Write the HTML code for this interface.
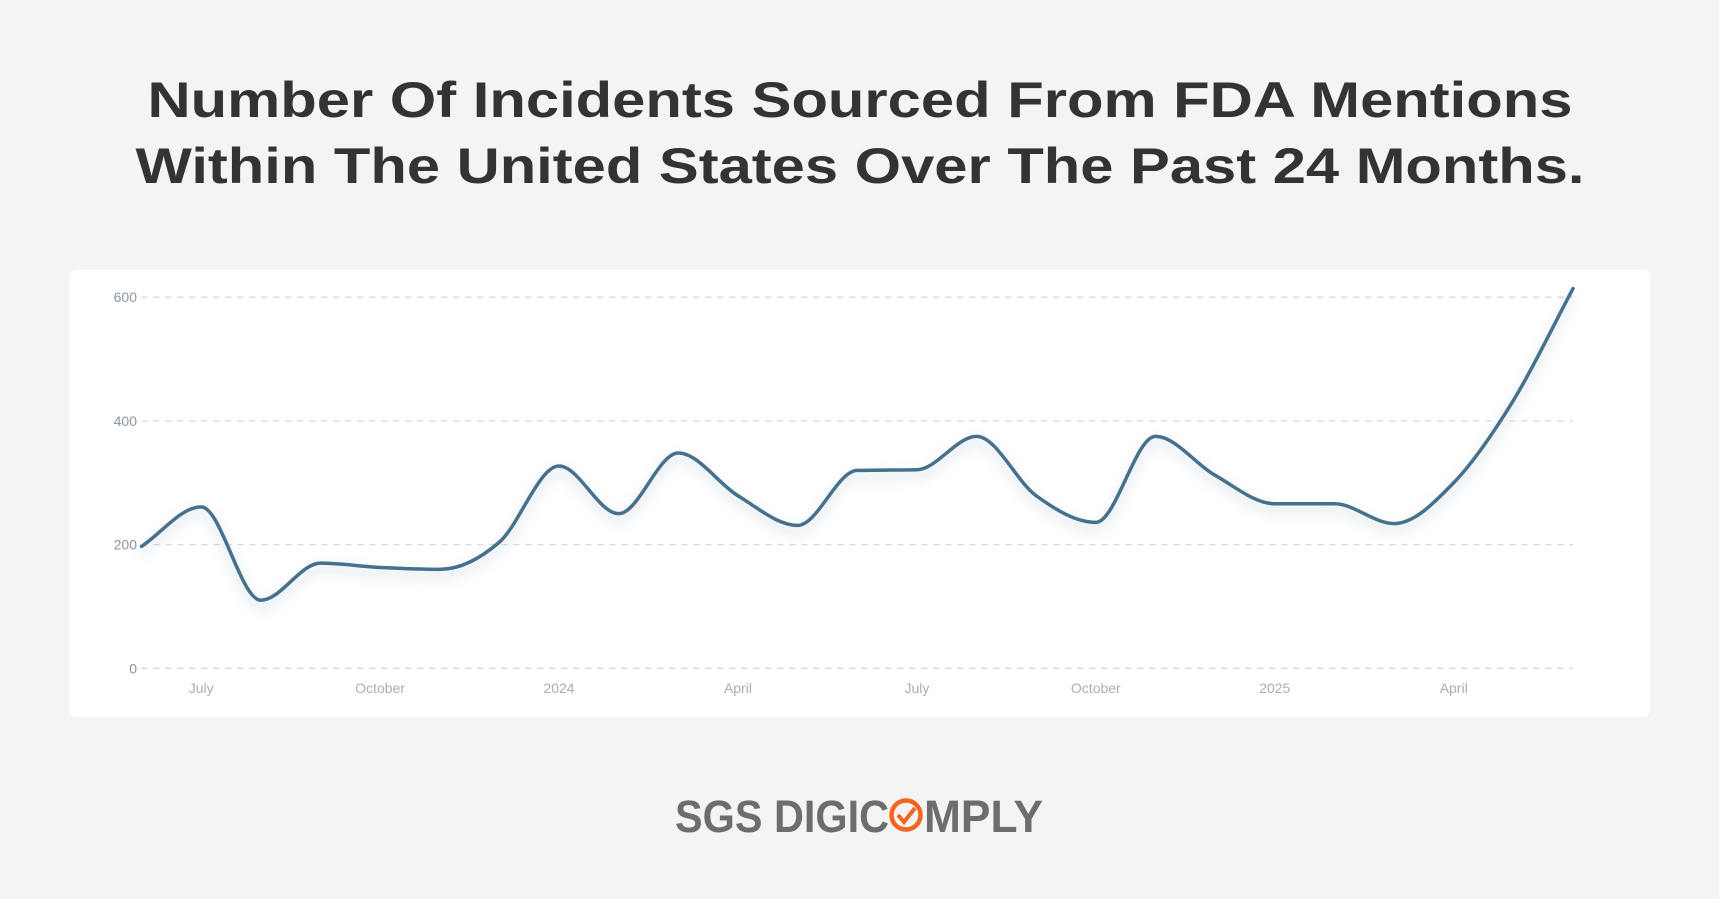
<!DOCTYPE html>
<html><head><meta charset="utf-8"><style>
html,body{margin:0;padding:0;background:#f4f4f4;}
svg{display:block;}
</style></head><body>
<svg id="chart" width="1719" height="899" viewBox="0 0 1719 899" xmlns="http://www.w3.org/2000/svg">
<defs>
<filter id="glow" x="-5%" y="-20%" width="110%" height="140%"><feGaussianBlur stdDeviation="6"/></filter>
</defs>
<rect x="0" y="0" width="1719" height="899" fill="#f4f4f4"/>
<g font-family="Liberation Sans, sans-serif" font-weight="bold" font-size="50" fill="#333" text-anchor="middle">
<text x="860" y="117" textLength="1425" lengthAdjust="spacingAndGlyphs">Number Of Incidents Sourced From FDA Mentions</text>
<text x="860" y="183" textLength="1449" lengthAdjust="spacingAndGlyphs">Within The United States Over The Past 24 Months.</text>
</g>
<rect x="69" y="270" width="1581" height="447" rx="7" fill="#fff"/>
<g id="grid"></g>
<g id="ylabels"></g>
<g id="xlabels"></g>
<g id="series"></g>
<g font-family="Liberation Sans, sans-serif" font-weight="bold" fill="#6d6d6d">
<text x="675" y="832" font-size="45" textLength="214" lengthAdjust="spacingAndGlyphs">SGS DIGIC</text>
<circle cx="906" cy="815" r="14.5" fill="none" stroke="#f26522" stroke-width="4.5"/>
<path d="M898 815 L904 822 L915 808" fill="none" stroke="#f26522" stroke-width="4"/>
<text x="924" y="832" font-size="45" textLength="119" lengthAdjust="spacingAndGlyphs">MPLY</text>
</g>
</svg>
<script>
const values = [197,261,110,170,163,160,204,327,250,348,279,231,320,321,375,279,236,375,312,266,266,234,300,433,614];
const yTicks = [0,200,400,600];
const xTickLabels = ["July","October","2024","April","July","October","2025","April"];
const xTickIndex = [1.0,4.0,7.0,10.0,13.0,16.0,19.0,22.0];

const NS="http://www.w3.org/2000/svg";
const x0=141.5, x1=1573, y0=668.3, yPer=123.7/200;
function xs(i){return x0+(x1-x0)*i/(values.length-1);}
function ys(v){return y0-v*yPer;}
function mk(tag,attrs,parent){const e=document.createElementNS(NS,tag);for(const k in attrs)e.setAttribute(k,attrs[k]);parent.appendChild(e);return e;}

const grid=document.getElementById('grid'), yl=document.getElementById('ylabels'), xl=document.getElementById('xlabels'), ser=document.getElementById('series');
yTicks.forEach(t=>{
  const l=mk('line',{x1:x0,x2:x1,y1:ys(t),y2:ys(t),stroke:'#d3d9e0','stroke-width':1.3,'stroke-dasharray':'6 6'},grid);
  
  
  const tx=mk('text',{x:137,y:ys(t)+5,'text-anchor':'end','font-family':'Liberation Sans, sans-serif','font-size':14,fill:'#8a94a3'},yl);
  tx.textContent=t;
  
  
});
xTickLabels.forEach((lab,k)=>{
  const tx=mk('text',{x:xs(xTickIndex[k]),y:693,'text-anchor':'middle','font-family':'Liberation Sans, sans-serif','font-size':14,fill:'#a6aeb9'},xl);
  tx.textContent=lab;
  
  
});
// monotone cubic (d3 curveMonotoneX)
const P=values.map((v,i)=>[xs(i),ys(v)]);
const n=P.length, d=[], m=[];
for(let i=0;i<n-1;i++)d.push((P[i+1][1]-P[i][1])/(P[i+1][0]-P[i][0]));
for(let i=0;i<n;i++){
  if(i===0)m.push(d[0]);else if(i===n-1)m.push(d[n-2]);
  else{ if(d[i-1]*d[i]<=0)m.push(0); else{const h0=P[i][0]-P[i-1][0],h1=P[i+1][0]-P[i][0];const p=(d[i-1]*h1+d[i]*h0)/(h0+h1);m.push((Math.sign(d[i-1])+Math.sign(d[i]))*Math.min(Math.abs(d[i-1]),Math.abs(d[i]),0.5*Math.abs(p)));} }
}
let path='M'+P[0][0]+','+P[0][1];
for(let i=0;i<n-1;i++){const h=(P[i+1][0]-P[i][0])/3;path+=' C'+(P[i][0]+h)+','+(P[i][1]+m[i]*h)+' '+(P[i+1][0]-h)+','+(P[i+1][1]-m[i+1]*h)+' '+P[i+1][0]+','+P[i+1][1];}
const sh=mk('path',{d:path,fill:'none',stroke:'#9fb4c4','stroke-width':6,opacity:0.35,filter:'url(#glow)',transform:'translate(0,6)'},ser);


const ln=mk('path',{d:path,fill:'none',stroke:'#46718d','stroke-width':3.5,'stroke-linejoin':'round','stroke-linecap':'round'},ser);


</script>
</body></html>
